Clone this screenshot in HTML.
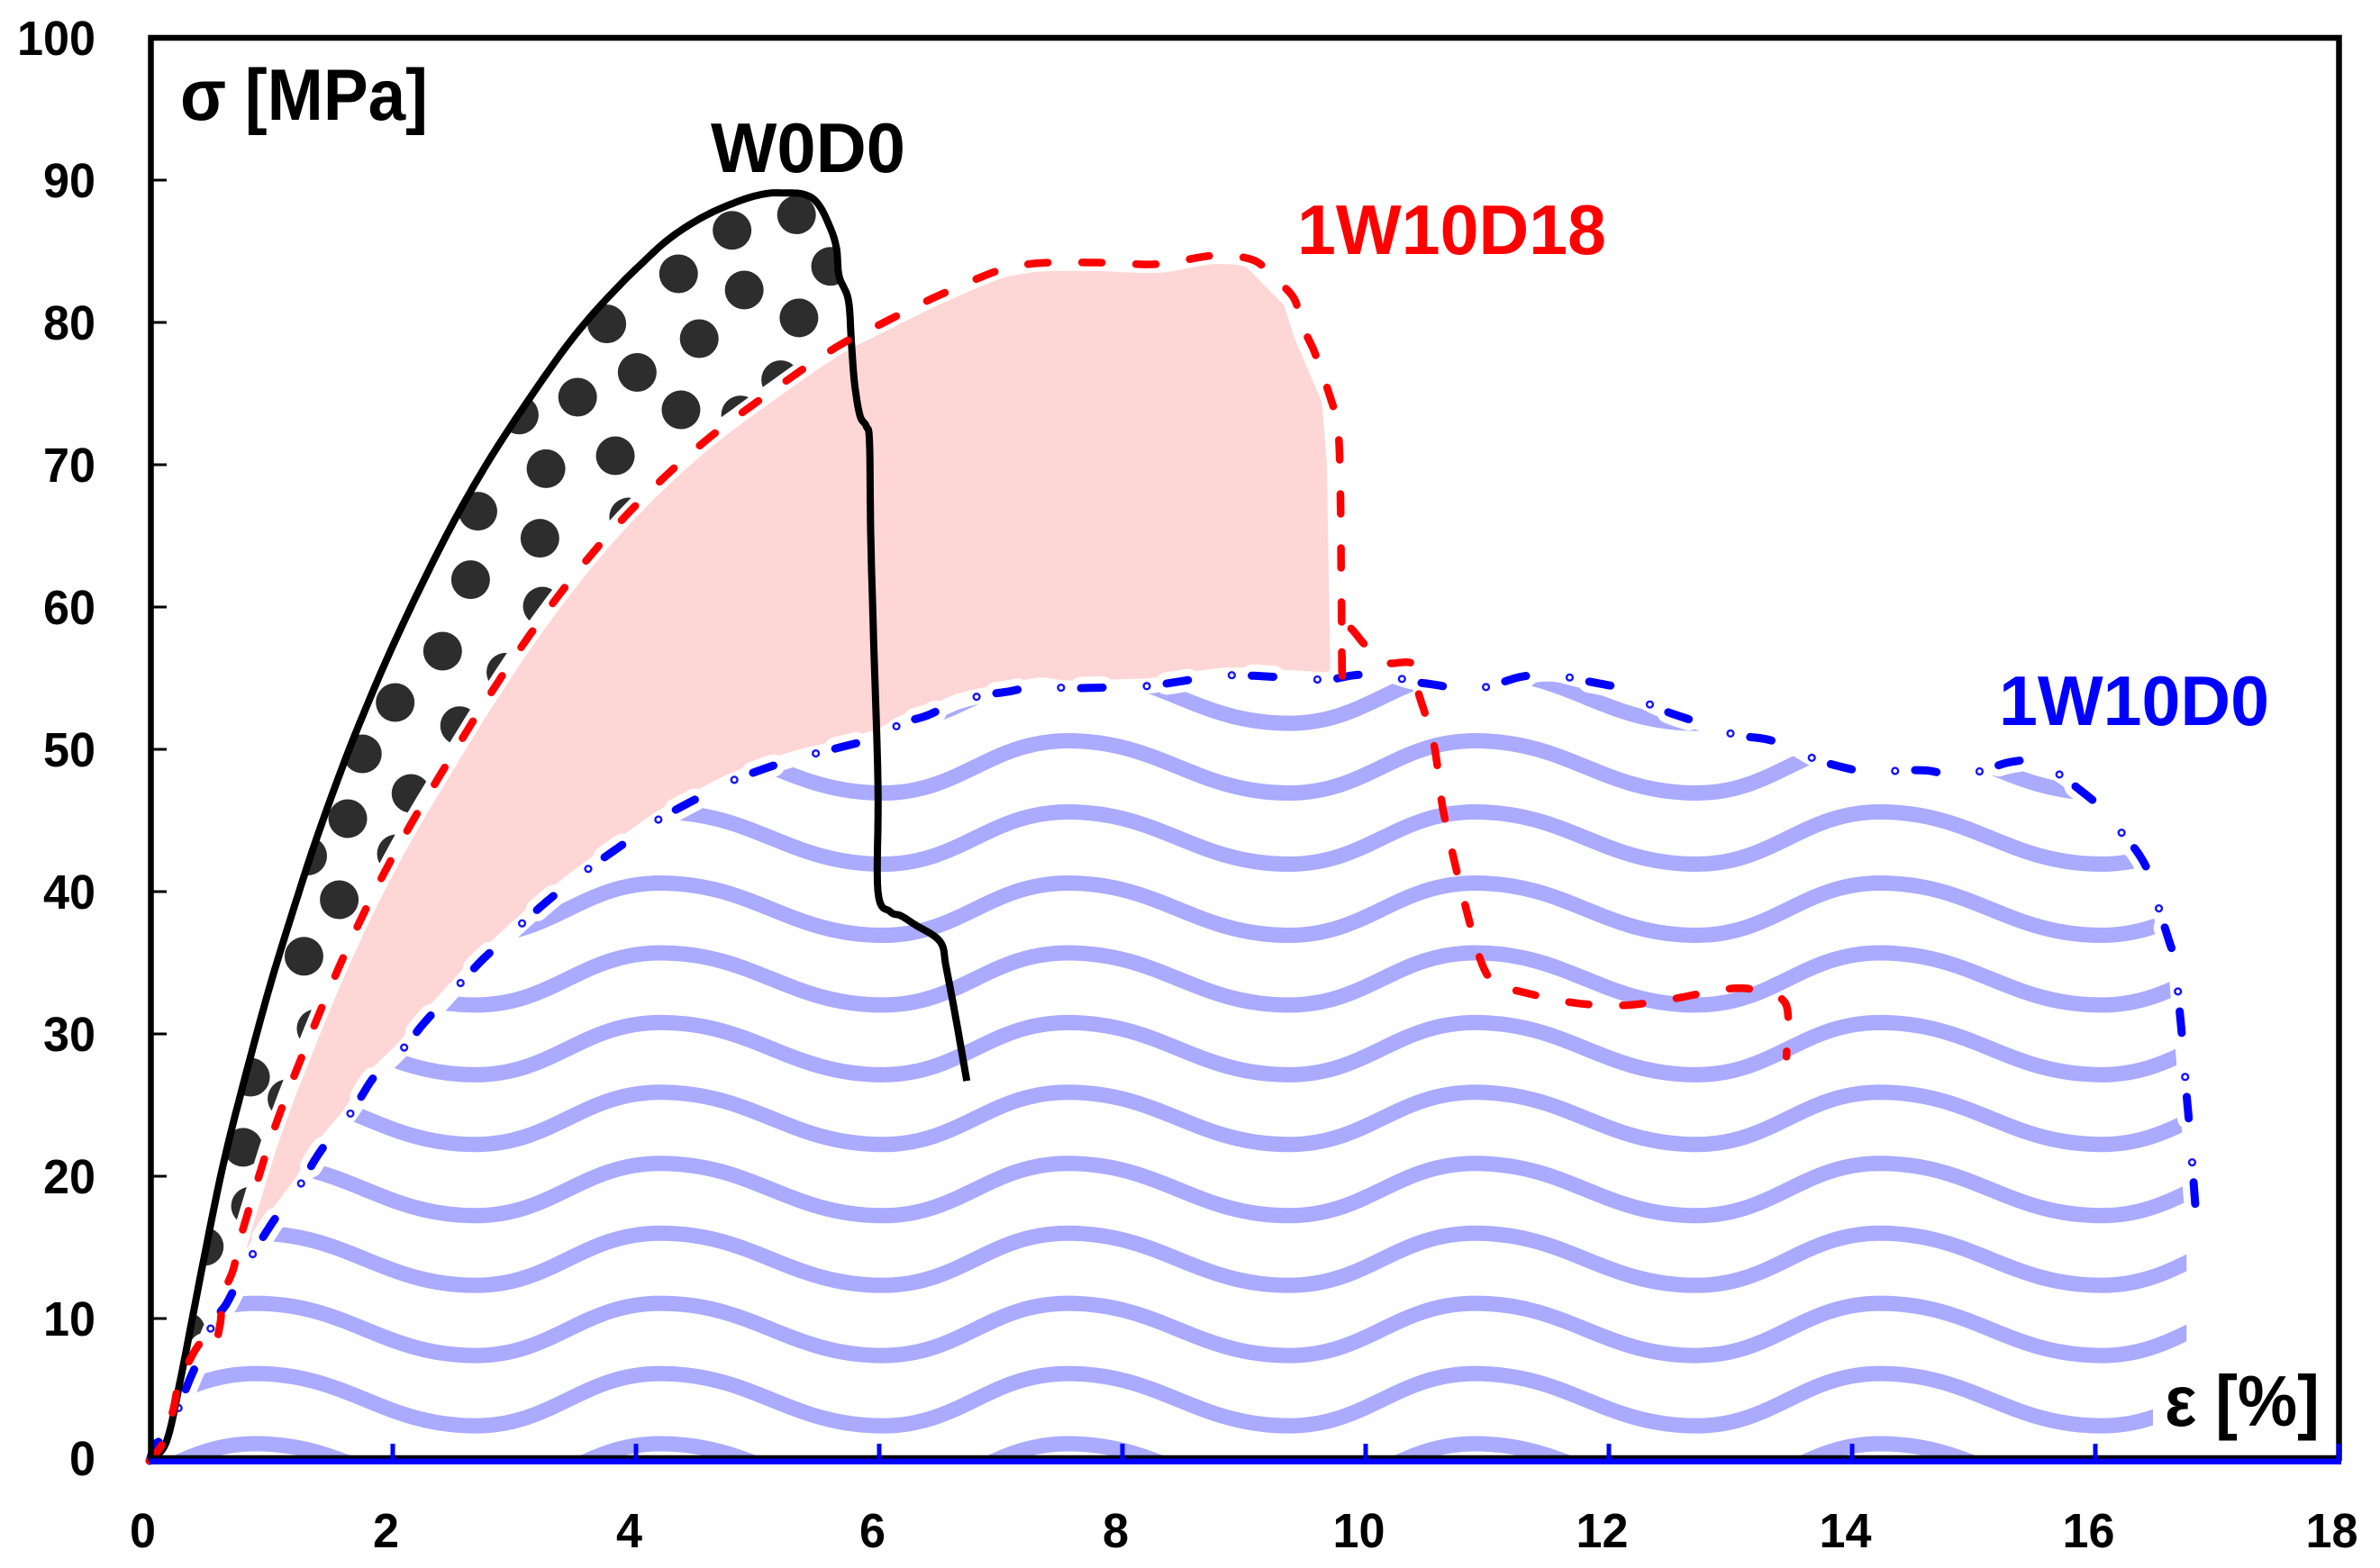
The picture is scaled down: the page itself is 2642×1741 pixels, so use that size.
<!DOCTYPE html>
<html lang="en">
<head>
<meta charset="utf-8">
<title>Stress-strain chart</title>
<style>
html,body{margin:0;padding:0;background:#fff;}
svg{display:block;}
text{font-family:"Liberation Sans",sans-serif;font-weight:bold;}
</style>
</head>
<body>
<svg id="chart" xmlns="http://www.w3.org/2000/svg" width="2642" height="1741" viewBox="0 0 2642 1741">
<rect x="0" y="0" width="2642" height="1741" fill="#ffffff"/>
<defs id="defs"></defs>
<g id="pinkLayer"></g>
<g id="dotLayer"></g>
<g id="redHaloLayer"></g>
<g id="waveLayer"></g>
<g id="blueHaloLayer"></g>
<g id="seriesLayer"></g>
<rect x="2390" y="1527" width="195" height="75" fill="#ffffff"/>
<g id="axisLayer"></g>
<text x="200" y="133" font-size="81" textLength="275" lengthAdjust="spacingAndGlyphs" fill="#000000">σ [MPa]</text>
<text x="2403" y="1583" font-size="80" textLength="172" lengthAdjust="spacingAndGlyphs" fill="#000000">ε [%]</text>
<text x="789" y="191" font-size="78" textLength="216" lengthAdjust="spacingAndGlyphs" fill="#000000">W0D0</text>
<text x="1440" y="282" font-size="78" textLength="343" lengthAdjust="spacingAndGlyphs" fill="#ff0000">1W10D18</text>
<text x="2219" y="805" font-size="78" textLength="300" lengthAdjust="spacingAndGlyphs" fill="#0000ff">1W10D0</text>
</svg>
<script>
var xTicks = [0, 2, 4, 6, 8, 10, 12, 14, 16, 18];
var yTicks = [0, 10, 20, 30, 40, 50, 60, 70, 80, 90, 100];

var w0d0Strain = [0,0.136,0.247,0.424,0.6,0.778,0.993,1.2,1.36,1.57,1.75,1.96,2.2,2.47,2.72,2.97,3.34,3.585,3.83,4.03,4.276,4.57,4.87,5.07,5.215,5.387,5.5,5.6,5.65,5.67,5.746,5.77,5.795,5.84,5.894,5.92,5.93,5.95,5.99,5.99,6.09,6.18,6.29,6.5,6.55,6.63,6.72];
var w0d0Stress = [0,1.28,5.4,13.2,20.6,26.7,33.46,39.2,43.4,48.4,52.3,56.5,60.9,65.5,69.3,72.7,77.3,80,82.3,84,85.9,87.5,88.6,89.05,89.1,88.99,88.3,86.6,85.15,83.25,81.6,78.8,75.9,73.5,72.7,71.6,65.3,58.8,47.6,40,38.6,38.3,37.7,36.5,34.7,31.1,26.7];

var redStrain = [0,0.11,0.193,0.235,0.32,0.43,0.524,0.58,0.605,0.687,0.736,0.864,1,1.178,1.487,1.78,2.1,2.44,2.78,3.165,3.585,4.05,4.56,5.09,5.635,6.04,6.44,6.93,7.16,7.39,7.84,8.3,8.75,9.07,9.24,9.41,9.47,9.58,9.71,9.77,9.79,9.8,9.81,9.82,10,10.16,10.39,10.43,10.56,10.62,10.67,10.77,10.94,11.07,11.26,11.7,12.1,12.48,13.02,13.26,13.46,13.46];
var redStress = [0,1.28,3.54,5.2,6.9,8.35,7.85,9.6,11.65,13.4,15.3,19,22.7,26.8,33.3,38.8,44,48.9,53.6,58.5,63.2,67.6,71.6,75,78.2,80,81.7,83.5,84,84.2,84.2,84.1,84.7,84.4,83.2,81.7,79.9,77.9,74.7,72.7,69,61.1,54.1,58.6,57.3,56.1,56,54.1,50.4,46.6,44.4,40.7,35.3,33.5,33,32.2,32,32.4,33.2,32.9,32,28.4];

var blueStrain = [0,0.045,0.09,0.14,0.32,0.407,0.526,0.63,0.728,0.847,0.976,1.1,1.247,1.37,1.5,1.66,1.83,1.93,2.1,2.25,2.41,2.57,2.73,2.9,3.08,3.26,3.44,3.64,3.99,4.21,4.63,4.85,5.29,5.57,6,6.18,6.4,6.63,6.86,7.09,7.31,7.56,8.03,8.26,8.73,8.98,9.43,9.69,9.9,10.15,10.36,10.6,10.83,11.08,11.28,11.53,11.75,12,12.1,12.4,12.84,13.05,13.3,13.52,13.73,14.17,14.37,14.63,14.85,15.07,15.3,15.53,15.71,15.88,16.06,16.21,16.36,16.46,16.52,16.6,16.66,16.68,16.72,16.74,16.78,16.8,16.83];
var blueStress = [0,1.1,1.4,1.6,5.5,7.2,9.75,11,12.6,14.5,16.3,17.85,19.5,21.3,22.85,24.5,26.8,27.66,29.1,30.7,32.2,33.7,35.15,36.5,37.9,39.26,40.5,41.8,43.9,45.2,47.1,48,49.3,49.9,50.9,51.8,52.4,53.3,53.8,54.1,54.5,54.3,54.4,54.5,55.1,55.2,55,54.9,55.2,55.3,54.8,54.5,54.1,54.6,55.1,55.3,54.9,54.5,54.3,52.9,51.6,51,50.7,50.1,49.2,48.3,48.5,48.5,48.1,48.5,49.1,49.2,48.2,47.1,45.8,44.2,42.6,40.9,38.9,36.7,35,32.9,29.1,26.8,22.8,20.5,17];

var pinkEdgeStrain = [8.96,9.33,9.41,9.64,9.68,9.71];
var pinkEdgeStress = [84.4,81.2,79,74.4,70.2,55];

var dotStrain = [5.32,4.79,5.6,4.35,4.89,5.34,3.76,4.52,4.01,5.19,3.52,4.37,4.86,3.04,3.83,3.26,3.94,2.7,3.21,2.64,3.23,2.41,2.93,2.02,2.55,1.75,2.15,1.63,2.03,1.3,1.56,1.27,1.37,0.83,1.13,0.77,0.83,0.45,0.3];
var dotStress = [87.56,86.47,83.94,83.42,82.28,80.32,79.9,78.86,76.49,75.97,74.75,73.86,73.5,73.5,70.63,69.72,66.33,66.73,64.83,61.92,60.06,56.9,55.42,53.29,51.66,49.68,46.9,45.13,42.66,42.5,39.43,35.46,30.38,26.96,25.44,22.03,17.9,15.06,9.11];

var waveCrestStrain = [-2.5,0.87,4.2,7.55,10.9,14.23,17.57];
var waveTroughStrain = [-0.67,2.68,6.03,9.37,12.72,16.05,19.4];
var waveRowCrestStress = [1.2,6.13,11.07,16.0,20.9,25.9,30.8,35.7,40.6,45.6,50.6,55.5];
var waveDepth = 3.67;

var NS = 'http://www.w3.org/2000/svg';
function xs(v) { return 166 + 135 * v; }
function ys(v) { return 1622 - 15.8 * v; }
function mk(tag, parentId) {
  var el = document.createElementNS(NS, tag);
  document.getElementById(parentId).appendChild(el);
  return el;
}
function pts(xArr, yArr) {
  var out = [];
  for (var i = 0; i < xArr.length; i++) { out.push([xs(xArr[i]), ys(yArr[i])]); }
  return out;
}
function pathOf(p) {
  return p.map(function (q, i) { return (i ? 'L' : 'M') + q[0].toFixed(1) + ' ' + q[1].toFixed(1); }).join(' ');
}
/* Catmull-Rom smoothing so the traced curves read as smooth lines */
function smooth(p) {
  var out = [];
  var steps = 8;
  for (var i = 0; i < p.length - 1; i++) {
    var p0 = p[Math.max(i - 1, 0)];
    var p1 = p[i];
    var p2 = p[i + 1];
    var p3 = p[Math.min(i + 2, p.length - 1)];
    for (var s = 0; s < steps; s++) {
      var t = s / steps;
      var t2 = t * t;
      var t3 = t2 * t;
      out.push([
        0.5 * (2 * p1[0] + (p2[0] - p0[0]) * t + (2 * p0[0] - 5 * p1[0] + 4 * p2[0] - p3[0]) * t2 + (3 * p1[0] - p0[0] - 3 * p2[0] + p3[0]) * t3),
        0.5 * (2 * p1[1] + (p2[1] - p0[1]) * t + (2 * p0[1] - 5 * p1[1] + 4 * p2[1] - p3[1]) * t2 + (3 * p1[1] - p0[1] - 3 * p2[1] + p3[1]) * t3)
      ]);
    }
  }
  out.push(p[p.length - 1]);
  return out;
}

var blackPts = pts(w0d0Strain, w0d0Stress);
var redPts = pts(redStrain, redStress);
var bluePts = pts(blueStrain, blueStress);
var pinkEdgePts = pts(pinkEdgeStrain, pinkEdgeStress);
var redHaloCount = redStrain.indexOf(9.81) + 1;

/* clip regions derived from the curves */
var blackForClip = [];
for (var a = 0; a < w0d0Strain.length && w0d0Strain[a] <= 5.77; a++) { blackForClip.push(blackPts[a]); }
var redForClip = [];
for (var b = 0; b < redStrain.length && redStrain[b] <= 5.64; b++) { redForClip.push(redPts[b]); }
var dotsClipPts = smooth(blackForClip).concat(smooth(redForClip).reverse());

var blueDense = smooth(bluePts);
var wavesClipPts = blueDense.map(function (q) { return [Math.min(q[0], xs(16.75)), q[1]]; });
wavesClipPts.push([xs(16.75), ys(0)]);
wavesClipPts.push([xs(0), ys(0)]);

var redForPink = [];
for (var d = 0; d < redStrain.length && redStrain[d] < 8.96; d++) { if (redStrain[d] >= 0.736) { redForPink.push(redPts[d]); } }
var blueForPink = [];
for (var f = 0; f < blueStrain.length; f++) { if (blueStrain[f] <= 9.69 && blueStrain[f] >= 0.847) { blueForPink.push(bluePts[f]); } }
var pinkPts = smooth(redForPink).concat(pinkEdgePts).concat(smooth(blueForPink).reverse());

function addClip(id, p) {
  var cp = mk('clipPath', 'defs');
  cp.setAttribute('id', id);
  var pa = document.createElementNS(NS, 'path');
  pa.setAttribute('d', pathOf(p) + ' Z');
  cp.appendChild(pa);
}
addClip('dotsClip', dotsClipPts);
addClip('wavesClip', wavesClipPts);

/* pink band */
var pink = mk('path', 'pinkLayer');


pink.setAttribute('d', pathOf(pinkPts) + ' Z');
pink.setAttribute('fill', '#ffd6d6');

/* dots */
document.getElementById('dotLayer').setAttribute('clip-path', 'url(#dotsClip)');
for (var i = 0; i < dotStrain.length; i++) {
  var dot = mk('circle', 'dotLayer');
  
  
  dot.setAttribute('cx', xs(dotStrain[i]));
  dot.setAttribute('cy', ys(dotStress[i]));
  dot.setAttribute('r', 21.5);
  dot.setAttribute('fill', '#2d2d2d');
}

/* red halo */
var redHalo = mk('path', 'redHaloLayer');


redHalo.setAttribute('d', pathOf(smooth(redPts.slice(0, redHaloCount))));
redHalo.setAttribute('fill', 'none');
redHalo.setAttribute('stroke', '#ffffff');
redHalo.setAttribute('stroke-width', '19');
redHalo.setAttribute('stroke-linejoin', 'round');

/* waves */
document.getElementById('waveLayer').setAttribute('clip-path', 'url(#wavesClip)');
for (var r = 0; r < waveRowCrestStress.length; r++) {
  var yc = ys(waveRowCrestStress[r]);
  var yt = ys(waveRowCrestStress[r] - waveDepth);
  var dStr = 'M' + xs(waveCrestStrain[0]) + ' ' + yc;
  for (var k = 0; k < waveCrestStrain.length; k++) {
    var x0 = xs(waveCrestStrain[k]);
    var x1 = xs(waveTroughStrain[k]);
    var h1 = (x1 - x0) * 0.42;
    dStr += ' C' + (x0 + h1) + ' ' + yc + ' ' + (x1 - h1) + ' ' + yt + ' ' + x1 + ' ' + yt;
    if (k + 1 < waveCrestStrain.length) {
      var x2 = xs(waveCrestStrain[k + 1]);
      var h2 = (x2 - x1) * 0.42;
      dStr += ' C' + (x1 + h2) + ' ' + yt + ' ' + (x2 - h2) + ' ' + yc + ' ' + x2 + ' ' + yc;
    }
  }
  var wave = mk('path', 'waveLayer');
  
  
  wave.setAttribute('d', dStr);
  wave.setAttribute('fill', 'none');
  wave.setAttribute('stroke', '#aaaaff');
  wave.setAttribute('stroke-width', '17');
}

/* blue halo: thin solid core plus wider bulges around each dash */
var blueHalo = mk('path', 'blueHaloLayer');


blueHalo.setAttribute('d', pathOf(blueDense));
blueHalo.setAttribute('fill', 'none');
blueHalo.setAttribute('stroke', '#ffffff');
blueHalo.setAttribute('stroke-width', '17');
blueHalo.setAttribute('stroke-linejoin', 'round');

var blueHaloDash = mk('path', 'blueHaloLayer');


blueHaloDash.setAttribute('d', pathOf(blueDense));
blueHaloDash.setAttribute('fill', 'none');
blueHaloDash.setAttribute('stroke', '#ffffff');
blueHaloDash.setAttribute('stroke-width', '25');
blueHaloDash.setAttribute('stroke-linecap', 'round');
blueHaloDash.setAttribute('stroke-dasharray', '24 71.2');

/* series */
var blueLine = mk('path', 'seriesLayer');


blueLine.setAttribute('d', pathOf(blueDense));
blueLine.setAttribute('fill', 'none');
blueLine.setAttribute('stroke', '#0000ff');
blueLine.setAttribute('stroke-width', '9');
blueLine.setAttribute('stroke-linecap', 'round');
blueLine.setAttribute('stroke-linejoin', 'round');
blueLine.setAttribute('stroke-dasharray', '24 71.2');

var blueLength = blueLine.getTotalLength();
for (var ringPos = 73; ringPos < blueLength; ringPos += 95.2) {
  var ringPoint = blueLine.getPointAtLength(ringPos);
  var ring = mk('circle', 'seriesLayer');
  
  
  ring.setAttribute('cx', ringPoint.x);
  ring.setAttribute('cy', ringPoint.y);
  ring.setAttribute('r', 3.4);
  ring.setAttribute('fill', '#ffffff');
  ring.setAttribute('stroke', '#1414ff');
  ring.setAttribute('stroke-width', '2.4');
}

var blackLine = mk('path', 'seriesLayer');


blackLine.setAttribute('d', pathOf(smooth(blackPts)));
blackLine.setAttribute('fill', 'none');
blackLine.setAttribute('stroke', '#000000');
blackLine.setAttribute('stroke-width', '8');
blackLine.setAttribute('stroke-linejoin', 'round');

var redLine = mk('path', 'seriesLayer');


redLine.setAttribute('d', pathOf(smooth(redPts)));
redLine.setAttribute('fill', 'none');
redLine.setAttribute('stroke', '#ff0000');
redLine.setAttribute('stroke-width', '8.5');
redLine.setAttribute('stroke-linecap', 'round');
redLine.setAttribute('stroke-linejoin', 'round');
redLine.setAttribute('stroke-dasharray', '22 38');

/* axes */
var frame = mk('rect', 'axisLayer');


frame.setAttribute('x', 167.5);
frame.setAttribute('y', 42);
frame.setAttribute('width', 2429);
frame.setAttribute('height', 1577);
frame.setAttribute('fill', 'none');
frame.setAttribute('stroke', '#000000');
frame.setAttribute('stroke-width', '6.5');

var xAxisLine = mk('rect', 'axisLayer');


xAxisLine.setAttribute('x', 166);
xAxisLine.setAttribute('y', 1619.5);
xAxisLine.setAttribute('width', 2433);
xAxisLine.setAttribute('height', 6.5);
xAxisLine.setAttribute('fill', '#0000ff');

yTicks.forEach(function (v) {
  if (v > 0 && v < 100) {
    var t = mk('rect', 'axisLayer');
    
    
    t.setAttribute('x', 168);
    t.setAttribute('y', ys(v) - 1.5);
    t.setAttribute('width', 17);
    t.setAttribute('height', 3);
    t.setAttribute('fill', '#000000');
  }
  var lab = mk('text', 'axisLayer');
  
  
  lab.setAttribute('x', 106);
  lab.setAttribute('y', ys(v) + 19 - (v === 0 ? 3 : 0));
  lab.setAttribute('font-size', '54');
  lab.setAttribute('text-anchor', 'end');
  lab.setAttribute('textLength', String(v).length * 29);
  lab.setAttribute('lengthAdjust', 'spacingAndGlyphs');
  lab.setAttribute('fill', '#000000');
  lab.textContent = String(v);
});

xTicks.forEach(function (v) {
  if (v > 0) {
    var t = mk('rect', 'axisLayer');
    
    
    t.setAttribute('x', xs(v) - 2.5);
    t.setAttribute('y', 1603);
    t.setAttribute('width', 5);
    t.setAttribute('height', 19);
    t.setAttribute('fill', '#0000ff');
  }
  var lab = mk('text', 'axisLayer');
  
  
  lab.setAttribute('x', xs(v) - 7.5);
  lab.setAttribute('y', 1718);
  lab.setAttribute('font-size', '54');
  lab.setAttribute('text-anchor', 'middle');
  lab.setAttribute('textLength', String(v).length * 29);
  lab.setAttribute('lengthAdjust', 'spacingAndGlyphs');
  lab.setAttribute('fill', '#000000');
  lab.textContent = String(v);
});
</script>
</body>
</html>
